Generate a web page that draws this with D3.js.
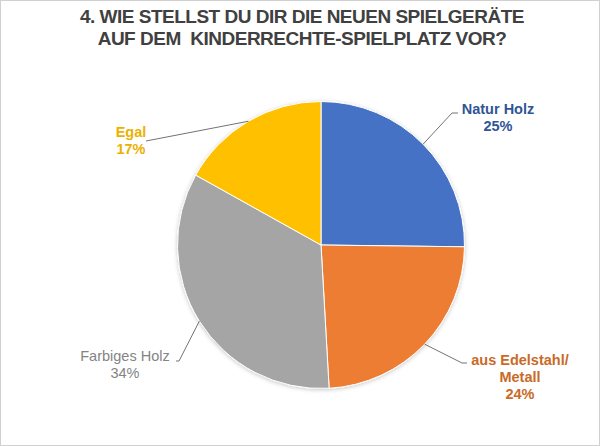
<!DOCTYPE html>
<html>
<head>
<meta charset="utf-8">
<script src="https://cdn.jsdelivr.net/npm/d3@7"></script>
<style>
  body { margin: 0; background: #fff; }
  svg { display: block; font-family: "Liberation Sans", Arial, sans-serif; }
</style>
</head>
<body>
<div id="chart"></div>
<script>
// chart data
const titleLines = ["4. WIE STELLST DU DIR DIE NEUEN SPIELGERÄTE", "AUF DEM  KINDERRECHTE-SPIELPLATZ VOR?"];
const categories = ["Natur Holz", "aus Edelstahl/ Metall", "Farbiges Holz", "Egal"];
const values = [25.2, 23.9, 34.0, 16.9];
const percentLabels = ["25%", "24%", "34%", "17%"];
const labelLines = [["Natur Holz"], ["aus Edelstahl/", "Metall"], ["Farbiges Holz"], ["Egal"]];

const sliceColors = ["#4472C4", "#ED7D31", "#A5A5A5", "#FFC000"];
const textColors = ["#2F5597", "#C96A28", "#848484", "#EBB100"];
const textWeights = ["bold", "bold", "normal", "bold"];
// label anchor (text centre, first baseline) and elbow of leader line
const labelPos = [
    { x: 498, y: 114, elbow: [452, 113], end: [458, 113] },
    { x: 520, y: 365, elbow: [462, 363], end: [467, 363] },
    { x: 125, y: 361, elbow: [179, 361], end: [176, 361] },
    { x: 131, y: 137, elbow: [146, 141], end: [146, 141] }
];

const width = 600, height = 446;
const cx = 321, cy = 245, radius = 143.5;

const svg = d3.select("#chart").append("svg")
    .attr("width", width)
    .attr("height", height);

// light frame round the picture
svg.append("rect")
    .attr("x", 0.5).attr("y", 0.5)
    .attr("width", width - 1).attr("height", height - 1)
    .attr("fill", "#fff")
    .attr("stroke", "#d0d0d0");

const defs = svg.append("defs");
const shadow = defs.append("filter").attr("id", "glow")
    .attr("x", "-20%").attr("y", "-20%").attr("width", "140%").attr("height", "140%");
shadow.append("feDropShadow")
    .attr("dx", 0).attr("dy", 1)
    .attr("stdDeviation", 2)
    .attr("flood-color", "#000")
    .attr("flood-opacity", 0.22);

// title
svg.append("g")
    .selectAll("text")
    .data(titleLines)
    .join("text")
    .attr("x", 302)
    .attr("y", (d, i) => 23 + i * 22)
    .attr("text-anchor", "middle")
    .attr("fill", "#404040")
    .style("font-size", "19px")
    .style("font-weight", "bold")
    .style("letter-spacing", "-0.5px")
    .style("white-space", "pre")
    .text(d => d);

const pie = d3.pie().sort(null).value(d => d);
const arcs = pie(values);
const arc = d3.arc().innerRadius(0).outerRadius(radius);

const g = svg.append("g").attr("transform", `translate(${cx},${cy})`);

g.append("g")
    .attr("filter", "url(#glow)")
    .selectAll("path")
    .data(arcs)
    .join("path")
    .attr("d", arc)
    .attr("fill", (d, i) => sliceColors[i])
    .attr("stroke", "#fff")
    .attr("stroke-width", 1);

// leader lines from the slice's outer edge
const edgePoint = d => {
    const a = (d.startAngle + d.endAngle) / 2;
    return [cx + radius * Math.sin(a), cy - radius * Math.cos(a)];
};

svg.append("g")
    .selectAll("polyline")
    .data(arcs)
    .join("polyline")
    .attr("points", (d, i) => [edgePoint(d), labelPos[i].elbow, labelPos[i].end].map(p => p.join(",")).join(" "))
    .attr("fill", "none")
    .attr("stroke", "#737373")
    .attr("stroke-width", 1);

// data labels
const labels = svg.append("g")
    .selectAll("text")
    .data(arcs)
    .join("text")
    .attr("text-anchor", "middle")
    .attr("fill", (d, i) => textColors[i])
    .style("font-size", "14.5px")
    .style("font-weight", (d, i) => textWeights[i]);

labels.each(function(d, i) {
    const t = d3.select(this);
    const lines = labelLines[i].concat([percentLabels[i]]);
    lines.forEach((line, k) => {
        t.append("tspan")
            .attr("x", labelPos[i].x)
            .attr("y", labelPos[i].y + k * 17)
            .text(line);
    });
});
</script>
</body>
</html>
